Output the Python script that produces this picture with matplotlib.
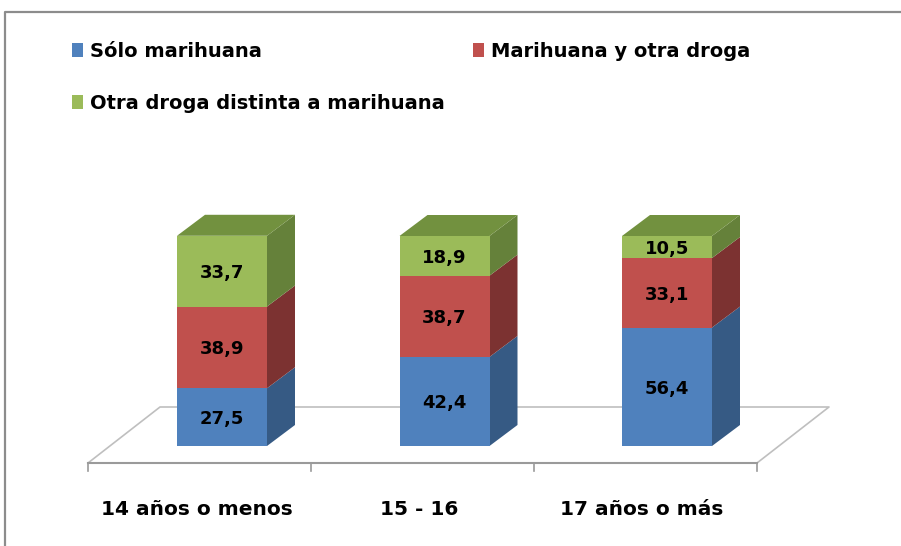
import matplotlib
matplotlib.use('Agg')
import matplotlib.pyplot as plt
from matplotlib.patches import Polygon, Rectangle
from matplotlib.lines import Line2D

# Data
categories = ['14 años o menos', '15 - 16', '17 años o más']
series_names = ['Sólo marihuana', 'Marihuana y otra droga', 'Otra droga distinta a marihuana']
solo_marihuana = [27.5, 42.4, 56.4]
marihuana_y_otra = [38.9, 38.7, 33.1]
otra_droga = [33.7, 18.9, 10.5]

front_colors = ['#4F81BD', '#C0504D', '#9BBB59']
side_colors = ['#365A84', '#7C3231', '#65813A']
top_colors = ['#3F6A9E', '#9A403E', '#72913F']

plt.rcParams['font.family'] = ['DejaVu Sans']

fig = plt.figure(figsize=(9.01, 5.46), dpi=100)
ax = fig.add_axes([0, 0, 1, 1])
# pixel mapping: x_px = 222 + 222.5 * i ; y_px = 446 - 2.1 * v
ax.set_xlim(-222 / 222.5, (901 - 222) / 222.5)
ax.set_ylim((446 - 546) / 2.1, 446 / 2.1)
ax.axis('off')

# chart border (top and left only, the rest is cut off)
fig.lines.append(Line2D([5 / 901, 5 / 901, 1.0], [0.0, 1 - 12 / 546, 1 - 12 / 546],
                        transform=fig.transFigure, color='#8c8c8c', linewidth=1.6))

width = 90 / 222.5
dx = 28 / 222.5
dy = 21 / 2.1

# floor
fl_front = -17 / 2.1
fl_back = 39 / 2.1
fl_x0, fl_x1 = -134 / 222.5, 535 / 222.5
fl_dx = 72 / 222.5
ax.plot([fl_x0, fl_x0 + fl_dx, fl_x1 + fl_dx, fl_x1],
        [fl_front, fl_back, fl_back, fl_front], color='#bfbfbf', linewidth=1.2, zorder=1)
ax.plot([fl_x0, fl_x1], [fl_front, fl_front], color='#9a9a9a', linewidth=1.5, zorder=1)
for k in range(len(categories) + 1):
    xt = fl_x0 + k * (fl_x1 - fl_x0) / len(categories)
    ax.plot([xt, xt], [fl_front, fl_front - 4], color='#9a9a9a', linewidth=1.2, zorder=1)

series = [solo_marihuana, marihuana_y_otra, otra_droga]
x = list(range(len(categories)))
bottoms = [0.0] * len(categories)
for s, vals in enumerate(series):
    ax.bar(x, vals, width=width, bottom=bottoms, color=front_colors[s], zorder=3)
    for i in x:
        b = bottoms[i]
        t = b + vals[i]
        xr = i + width / 2
        xl = i - width / 2
        ax.add_patch(Polygon([(xr, b), (xr + dx, b + dy), (xr + dx, t + dy), (xr, t)],
                             closed=True, facecolor=side_colors[s], edgecolor='none', zorder=2))
        if s == len(series) - 1:
            ax.add_patch(Polygon([(xl, t), (xl + dx, t + dy), (xr + dx, t + dy), (xr, t)],
                                 closed=True, facecolor=top_colors[s], edgecolor='none', zorder=2))
        ax.text(i, b + vals[i] / 2, f'{vals[i]:.1f}'.replace('.', ','), ha='center',
                va='center_baseline', fontsize=13, fontweight='bold', color='black', zorder=4)
    bottoms = [bottoms[i] + vals[i] for i in x]

# category labels
for i, cat in enumerate(categories):
    ax.text(i - 25 / 222.5, (446 - 515) / 2.1, cat, ha='center', va='baseline',
            fontsize=14.5, fontweight='bold', color='black')

# legend
leg_pos = [(72, 57), (473, 57), (72, 109)]
for s, name in enumerate(series_names):
    px, py = leg_pos[s]
    fig.patches.append(Rectangle((px / 901, 1 - py / 546), 11 / 901, 14 / 546,
                                 transform=fig.transFigure, facecolor=front_colors[s], edgecolor='none'))
    fig.text((px + 18) / 901, 1 - py / 546, name, ha='left', va='baseline',
             fontsize=14, fontweight='bold', color='black')

fig.savefig('out.png', dpi=100)
